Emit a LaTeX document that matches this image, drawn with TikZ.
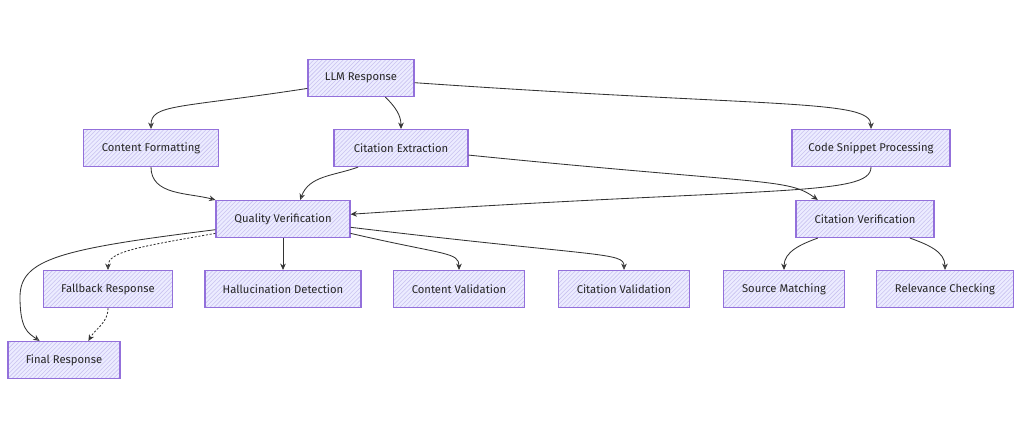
\documentclass[tikz,border=0pt]{standalone}
\usepackage{fontspec}
\setmainfont{Fira Sans}
\usepackage{tikz}
\usetikzlibrary{arrows.meta,patterns}
\definecolor{boxfill}{HTML}{ECECFF}
\definecolor{boxline}{HTML}{9370DB}
\definecolor{hatch}{HTML}{C9C2F0}
\begin{document}
\begin{tikzpicture}[
  x=0.025cm, y=0.025cm,
  every node/.style={font=\fontsize{8}{10}\selectfont, text=black!85},
  box/.style={draw=boxline, line width=0.8pt, preaction={fill=boxfill}, pattern=north east lines, pattern color=hatch, minimum height=9.25mm, inner sep=2pt, align=center},
  link/.style={draw=black!80, line width=0.6pt, -{Stealth[length=4.5pt,width=4pt]}},
  olink/.style={draw=black!80, line width=0.6pt, -{Stealth[open,length=4.5pt,width=4pt]}},
  dlink/.style={draw=black!80, line width=0.6pt, dashed, dash pattern=on 1.5pt off 1.2pt}
]
\useasboundingbox (0,0) rectangle (1024,437);
\node[box, minimum width=26.5mm] (llm) at (361,359) {LLM Response};
\node[box, minimum width=33.75mm] (fmt) at (151,289) {Content Formatting};
\node[box, minimum width=33.5mm] (cext) at (401,289) {Citation Extraction};
\node[box, minimum width=39.5mm] (code) at (871,289) {Code Snippet Processing};
\node[box, minimum width=33.5mm] (qv) at (283,218) {Quality Verification};
\node[box, minimum width=34.5mm] (cver) at (865,218) {Citation Verification};
\node[box, minimum width=32.25mm] (fall) at (108,148) {Fallback Response};
\node[box, minimum width=39mm] (hall) at (283,148) {Hallucination Detection};
\node[box, minimum width=32.75mm] (cval) at (459,148) {Content Validation};
\node[box, minimum width=32.75mm] (citval) at (624,148) {Citation Validation};
\node[box, minimum width=30.25mm] (src) at (784,148) {Source Matching};
\node[box, minimum width=34.25mm] (rel) at (945,148) {Relevance Checking};
\node[box, minimum width=28mm] (final) at (64,77) {Final Response};
% from the response
\draw[olink] (llm.191) .. controls +(-130,-20) and +(0,25) .. (fmt.north);
\draw[link] (llm.-38) to[out=-45, in=90] (cext.north);
\draw[olink] (llm.-5) .. controls +(360,-25) and +(0,30) .. (code.north);
% into quality verification
\draw[olink] (fmt.south) to[out=-90, in=165] (qv.north west);
\draw[olink] (cext.204) to[out=200, in=70] (qv.48);
\draw[link] (code.south) .. controls +(0,-30) and +(420,28) .. (qv.4);
\draw[link] (cext.-6) .. controls +(300,-30) and +(-30,22) .. (cver.158);
% out of quality verification
\draw[olink] (qv.189) .. controls (60,188) and (20,178) .. (20,140) .. controls (20,108) and (28,104) .. (final.142);
\draw[dlink, -{Stealth[open,length=4.5pt,width=4pt]}] (qv.192) .. controls +(-80,-14) and +(0,18) .. (fall.north);
\draw[dlink, -{Stealth[length=4.5pt,width=4pt]}] (fall.south) to[out=-90, in=60] (final.38);
\draw[link] (qv.south) -- (hall.north);
\draw[link] (qv.-12) .. controls +(95,-22) and +(0,18) .. (cval.north);
\draw[olink] (qv.-7) .. controls +(250,-30) and +(0,18) .. (citval.north);
% citation checks
\draw[link] (cver.202) to[out=200, in=90] (src.north);
\draw[olink] (cver.-23) to[out=-20, in=90] (rel.north);
\end{tikzpicture}
\end{document}
